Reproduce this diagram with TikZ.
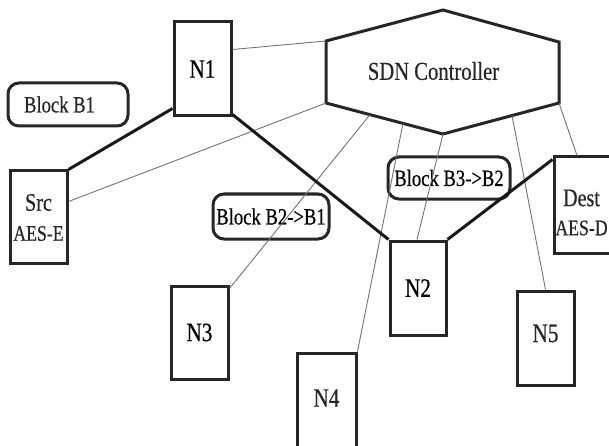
\documentclass[tikz,border=0pt]{standalone}
\usepackage{fontspec}
\setmainfont{Liberation Serif}[FakeStretch=0.8, FakeBold=0.5]
\usetikzlibrary{calc}

\tikzset{
  netbox/.style={draw=black!85, line width=3pt, rectangle, inner sep=0pt},
  blockbox/.style={draw=black!85, line width=3pt, rectangle, rounded corners=11pt, inner sep=0pt},
  lbl/.style={inner sep=0pt, text=black!85},
  nodefont/.style={font=\fontsize{26.5}{26}\selectfont},
  blockfont/.style={font=\fontsize{23.3}{23}\selectfont},
  namefont/.style={font=\fontsize{25.2}{25}\selectfont},
  aesfont/.style={font=\fontsize{22.2}{22}\selectfont},
  ctrlfont/.style={font=\fontsize{25.8}{26}\selectfont},
  datalink/.style={draw=black!90, line width=3pt},
  ctrllink/.style={draw=black!55, line width=0.9pt},
}

\begin{document}
\begin{tikzpicture}[x=1pt, y=-1pt]
  \useasboundingbox (0,0) rectangle (609,446);
  \clip (0,0) rectangle (609,446);

  % SDN controller outline (hexagon)
  \coordinate (hT)  at (443,10);
  \coordinate (hUR) at (559,42);
  \coordinate (hLR) at (559,103);
  \coordinate (hB)  at (443,134);
  \coordinate (hLL) at (326,103);
  \coordinate (hUL) at (326,41);
  \draw[draw=black!85, line width=3pt, line join=miter]
    (hT) -- (hUR) -- (hLR) -- (hB) -- (hLL) -- (hUL) -- cycle;
  \node[lbl, ctrlfont] (sdn) at (433.5,71) {SDN Controller};

  % attachment points on the lower edges of the controller
  \coordinate (cN3) at ($(hLL)!0.376!(hB)$);
  \coordinate (cN4) at ($(hLL)!0.658!(hB)$);
  \coordinate (cN5) at ($(hB)!0.595!(hLR)$);

  % switches
  \node[netbox, nodefont, minimum width=57pt, minimum height=94pt] (n1) at (202.5,69) {N1};
  \node[netbox, nodefont, minimum width=56pt, minimum height=94pt] (n2) at (418,288) {N2};
  \node[netbox, nodefont, minimum width=57pt, minimum height=93pt] (n3) at (199.5,332.5) {N3};
  \node[netbox, minimum width=59pt, minimum height=96pt] (n4) at (326.5,401) {};
  \node[lbl, nodefont] (n4t) at (326.5,398) {N4};
  \node[netbox, minimum width=57pt, minimum height=94pt] (n5) at (545.5,338) {};
  \node[lbl, nodefont] (n5t) at (545.5,333.5) {N5};

  % end hosts
  \node[netbox, minimum width=57pt, minimum height=92pt] (src) at (38.5,217) {};
  \node[lbl, namefont] (srct) at (38.5,202.5) {Src};
  \node[lbl, aesfont] (srca) at (38.5,233.5) {AES-E};
  \node[netbox, minimum width=58pt, minimum height=96pt] (dest) at (583,205) {};
  \node[lbl, namefont] (destt) at (581.5,198) {Dest};
  \node[lbl, aesfont] (desta) at (581.5,228) {AES-D};

  % blocked flows
  \node[blockbox, minimum width=120pt, minimum height=43pt] (b1) at (68,104.5) {};
  \node[lbl, blockfont] (b1t) at (59.5,104.5) {Block B1};
  \node[blockbox, blockfont, minimum width=116pt, minimum height=45pt] (b21) at (271,216.5) {Block B2->B1};
  \node[blockbox, blockfont, minimum width=122pt, minimum height=42pt] (b32) at (449,178) {Block B3->B2};

  % control channels
  \draw[ctrllink] ([yshift=-29pt]n1.north east) -- (hUL);
  \draw[ctrllink] ([yshift=-32pt]src.north east) -- (hLL);
  \draw[ctrllink] (cN3) -- ([yshift=-4pt]n3.north east);
  \draw[ctrllink] (cN4) -- (n4.north east);
  \draw[ctrllink] (hB) -- ([xshift=-1pt]n2.north);
  \draw[ctrllink] (cN5) -- (n5.north);
  \draw[ctrllink] (hLR) -- ([xshift=-6pt]dest.north);

  % data path
  \draw[datalink] (src.north east) -- ([yshift=9pt]n1.south west);
  \draw[datalink] ([yshift=3pt]n1.south east) -- (n2.north west);
  \draw[datalink] (n2.north east) -- ([yshift=-4pt]dest.north west);
\end{tikzpicture}
\end{document}
